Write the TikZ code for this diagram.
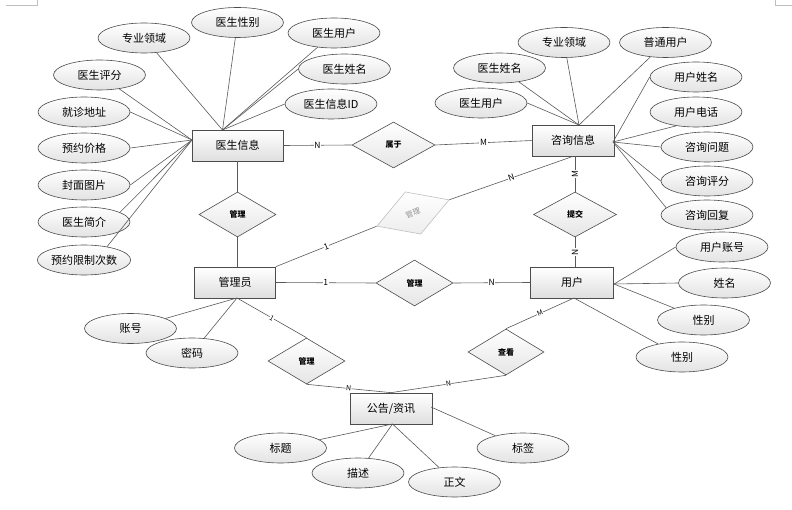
\documentclass[tikz,border=0pt]{standalone}
\usepackage{fontspec}
\setmainfont{Noto Sans CJK SC}
\usetikzlibrary{shapes.geometric}
\begin{document}
\begin{tikzpicture}[x=1pt,y=-1pt,
 attr/.style={ellipse,draw=black!70,line width=0.6pt,top color=white,bottom color=gray!22,minimum width=92pt,minimum height=30pt,inner sep=0pt,font=\fontsize{11}{13}\selectfont},
 ent/.style={rectangle,draw=black!70,line width=0.7pt,top color=white,bottom color=gray!25,minimum width=82pt,minimum height=31pt,inner sep=0pt,font=\fontsize{11}{13}\selectfont},
 rel/.style={diamond,draw=black!70,line width=0.6pt,top color=white,bottom color=gray!20,minimum width=77pt,minimum height=45pt,inner sep=0pt,font=\bfseries\fontsize{8}{9}\selectfont},
 ghost/.style={diamond,draw=gray!50,line width=0.6pt,top color=white,bottom color=gray!14,minimum width=77pt,minimum height=45pt,inner sep=0pt,text=gray!85,font=\fontsize{7.5}{8}\selectfont},
 link/.style={draw=black!65,line width=0.6pt},
 card/.style={fill=white,inner sep=0.6pt,font=\fontsize{8.5}{9}\selectfont},
 scard/.style={fill=white,inner sep=0.4pt,sloped,font=\fontsize{7}{8}\selectfont}
]
\useasboundingbox (0,0) rectangle (792,510);
% crop marks
\draw[gray!50,line width=0.5pt] (6,5.5) -- (37,5.5) -- (37,0);
\draw[gray!50,line width=0.5pt] (792,5.5) -- (775,5.5) -- (775,0);

% entities
\node[ent,minimum width=91pt] (doc) at (237.5,145.5) {医生信息};
\node[ent] (zx) at (573,140.5) {咨询信息};
\node[ent,minimum width=81pt] (adm) at (235,282.5) {管理员};
\node[ent,minimum width=83pt] (usr) at (572,282.5) {用户};
\node[ent] (gg) at (391,408.5) {公告/资讯};

% relationships
\node[rel] (r1) at (237.5,214.5) {管理};
\node[rel,minimum width=83pt,minimum height=46pt] (r2) at (393.5,145) {属于};
\node[ghost,rotate=20] (r3) at (413,213) {管理};
\node[rel,minimum width=83pt] (r4) at (575,214.5) {提交};
\node[rel,minimum height=46pt] (r5) at (414.5,283) {管理};
\node[rel,minimum height=46pt] (r6) at (306.5,361) {管理};
\node[rel,minimum width=76pt,minimum height=46pt] (r7) at (506,352) {查看};

% doctor attributes
\node[attr] (a1) at (144,38) {专业领域};
\node[attr] (a2) at (237.5,22.5) {医生性别};
\node[attr] (a3) at (334,33) {医生用户};
\node[attr] (a4) at (344.5,69) {医生姓名};
\node[attr] (a5) at (331,104) {医生信息ID};
\node[attr] (a6) at (99.5,75) {医生评分};
\node[attr] (a7) at (84,112) {就诊地址};
\node[attr] (a8) at (84,148) {预约价格};
\node[attr] (a9) at (84,185) {封面图片};
\node[attr] (a10) at (84,222) {医生简介};
\node[attr] (a11) at (84,260) {预约限制次数};
\coordinate (dtop) at (222.5,130);
\coordinate (dleft) at (192,140);
\foreach \n in {a1,a2,a3} \draw[link] (\n) -- (dtop);
\draw[link] (a4.west) -- (dtop);
\draw[link] (a5.west) -- (dtop);
\draw[link] (a6) -- (dleft);
\foreach \n in {a7,a8,a9} \draw[link] (\n.east) -- (dleft);
\draw[link] (a10.15) -- (dleft);
\draw[link] (a11.30) -- (dleft);

% consult attributes
\node[attr] (b1) at (564,42.5) {专业领域};
\node[attr] (b2) at (665.5,42.5) {普通用户};
\node[attr] (b3) at (499.5,68) {医生姓名};
\node[attr] (b4) at (481,103) {医生用户};
\node[attr] (b5) at (696,77) {用户姓名};
\node[attr] (b6) at (696,112) {用户电话};
\node[attr] (b7) at (707,147) {咨询问题};
\node[attr] (b8) at (707,181) {咨询评分};
\node[attr] (b9) at (707,215) {咨询回复};
\coordinate (ztop) at (579,125);
\coordinate (zright) at (613,142);
\foreach \n in {b1,b2,b3} \draw[link] (\n) -- (ztop);
\draw[link] (b4.east) -- (ztop);
\draw[link] (b5.west) -- (zright);
\draw[link] (b6.215) -- (zright);
\draw[link] (b7.west) -- (zright);
\draw[link] (b8.west) -- (zright);
\draw[link] (b9.170) -- (zright);

% user attributes
\node[attr] (c1) at (722,247) {用户账号};
\node[attr] (c2) at (724.5,283) {姓名};
\node[attr] (c3) at (703.5,320) {性别};
\node[attr] (c4) at (682,357) {性别};
\coordinate (uright) at (614,284);
\coordinate (usouth) at (574,298);
\draw[link] (c1.west) -- (uright);
\draw[link] (c2.west) -- (uright);
\draw[link] (c3) -- (uright);
\draw[link] (c4) -- (usouth);

% admin attributes
\node[attr] (d1) at (130.5,328.5) {账号};
\node[attr] (d2) at (192,353) {密码};
\coordinate (asouth) at (237,298);
\draw[link] (d1) -- (asouth);
\draw[link] (d2) -- (asouth);

% notice attributes
\node[attr] (e1) at (280.5,448) {标题};
\node[attr] (e2) at (358,473) {描述};
\node[attr] (e3) at (454.5,482) {正文};
\node[attr] (e4) at (523,448) {标签};
\coordinate (gsouth) at (392.5,424);
\coordinate (geast) at (431,407);
\foreach \n in {e1,e2,e3} \draw[link] (\n) -- (gsouth);
\draw[link] (e4) -- (geast);

% relationship links
\draw[link] (doc.south) -- (r1.north);
\draw[link] (r1.south) -- (r1.south |- adm.north);
\draw[link] (doc.east) -- node[card] {N} (r2.west);
\draw[link] (r2.east) -- node[card] {M} (zx.west);
\draw[link] (adm.north east) -- node[scard,font=\fontsize{8.5}{9}\selectfont] {1} (r3.west);
\draw[link] (r3.east) -- node[scard,font=\fontsize{8.5}{9}\selectfont] {N} (zx.south);
\draw[link] (r4.north |- zx.south) -- node[card,rotate=90] {M} (r4.north);
\draw[link] (r4.south) -- node[card,rotate=90] {N} (r4.south |- usr.north);
\draw[link] (adm.east) -- node[card] {1} (r5.west);
\draw[link] (r5.east) -- node[card] {N} (usr.west);
\draw[link] (asouth) -- node[scard] {1} (r6.north);
\draw[link] (r6.south) -- node[scard] {N} (gg.north);
\draw[link] (usouth) -- node[scard] {M} (r7.north);
\draw[link] (r7.south) -- node[scard] {N} (gg.north);
\end{tikzpicture}
\end{document}
